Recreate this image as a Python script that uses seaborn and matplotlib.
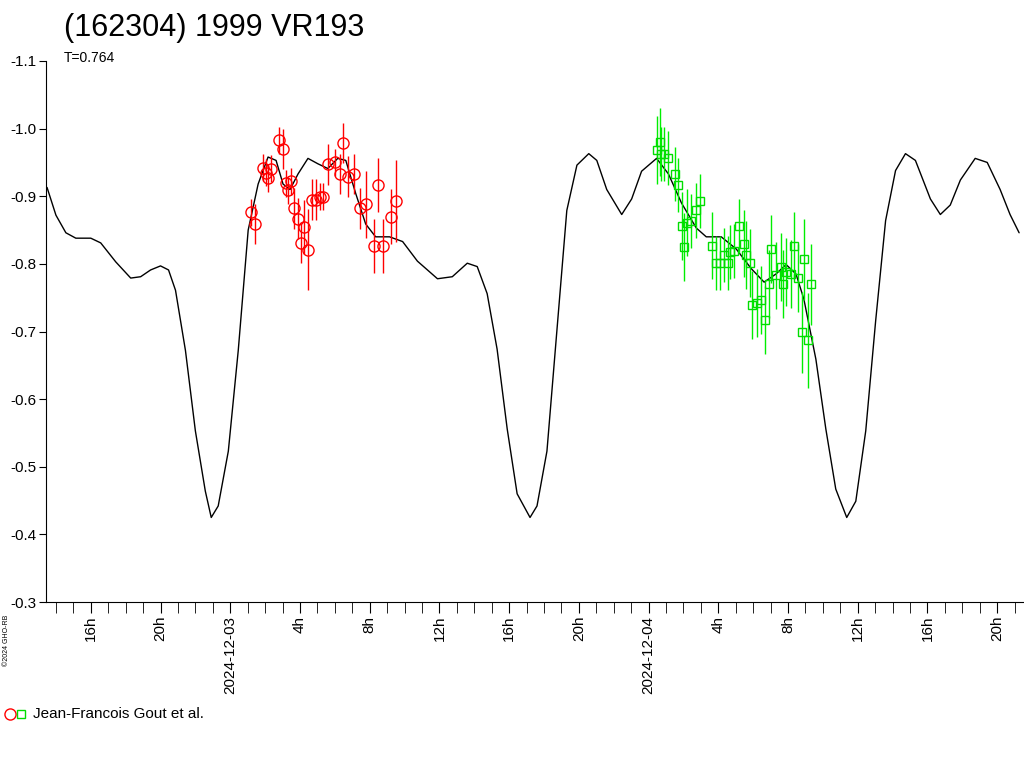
import numpy as np
import pandas as pd
import matplotlib
matplotlib.use("Agg")
import matplotlib.pyplot as plt
from matplotlib.lines import Line2D
import seaborn as sn

sn.set_style("white")
plt.rcParams['font.family'] = ['Liberation Sans', 'DejaVu Sans']
plt.rcParams['text.color'] = 'black'
plt.rcParams['xtick.color'] = 'black'
plt.rcParams['ytick.color'] = 'black'

# model curve: hours from 2024-12-03 00:00, magnitude
curve_h = [-10.51, -10.0, -9.43, -8.86, -8.0, -7.43, -6.57, -5.71, -5.14, -4.57, -4.0, -3.54, -3.14,
           -2.57, -2.0, -1.43, -1.09, -0.69, -0.11, 0.46, 1.03, 1.6, 2.17, 2.63, 3.03, 3.43, 3.89,
           4.46, 5.03, 5.6, 6.17, 6.63, 7.2, 7.77, 8.34, 9.14, 9.89, 10.74, 11.89, 12.74, 13.6,
           14.17, 14.74, 15.31, 15.89, 16.46, 17.2, 17.6, 18.17, 18.74, 19.31, 19.89, 20.57, 21.03,
           21.6, 22.46, 23.03, 23.6, 24.46, 25.14, 25.89, 26.74, 27.31, 28.17, 29.03, 29.89, 30.63,
           31.31, 31.89, 32.46, 32.91, 33.6, 34.17, 34.74, 35.37, 35.89, 36.46, 37.03, 37.6, 38.17,
           38.74, 39.31, 40.17, 40.74, 41.31, 41.89, 42.74, 43.43, 44.17, 44.74, 45.26]
curve_m = [-0.913, -0.872, -0.846, -0.838, -0.838, -0.831, -0.803, -0.779, -0.781, -0.791,
           -0.797, -0.791, -0.761, -0.672, -0.553, -0.464, -0.425, -0.442, -0.523, -0.672,
           -0.850, -0.918, -0.958, -0.953, -0.918, -0.910, -0.933, -0.956, -0.948, -0.941,
           -0.956, -0.953, -0.904, -0.859, -0.840, -0.840, -0.833, -0.804, -0.778, -0.781,
           -0.801, -0.796, -0.756, -0.674, -0.556, -0.460, -0.425, -0.442, -0.523, -0.701,
           -0.879, -0.946, -0.963, -0.953, -0.910, -0.873, -0.896, -0.937, -0.956, -0.933,
           -0.890, -0.853, -0.840, -0.840, -0.822, -0.793, -0.773, -0.785, -0.799, -0.785,
           -0.748, -0.659, -0.556, -0.467, -0.425, -0.449, -0.553, -0.716, -0.864, -0.938,
           -0.963, -0.953, -0.896, -0.873, -0.887, -0.924, -0.956, -0.950, -0.910, -0.873, -0.846]

# Jean-Francois Gout et al. - first night (red circles)
red_h = [1.2, 1.43, 1.89, 2.06, 2.17, 2.34, 2.8, 3.03, 3.2, 3.31, 3.49, 3.66, 3.89, 4.06, 4.23,
         4.46, 4.69, 4.91, 5.14, 5.31, 5.6, 6.0, 6.29, 6.46, 6.74, 7.09, 7.43, 7.77, 8.23, 8.46,
         8.74, 9.2, 9.49]
red_m = [-0.876, -0.859, -0.942, -0.935, -0.927, -0.941, -0.983, -0.970, -0.919, -0.909, -0.922,
         -0.882, -0.867, -0.831, -0.855, -0.821, -0.895, -0.895, -0.899, -0.899, -0.947, -0.950,
         -0.933, -0.979, -0.929, -0.933, -0.882, -0.888, -0.827, -0.916, -0.827, -0.870, -0.893]
red_e = [0.02, 0.03, 0.02, 0.02, 0.02, 0.02, 0.02, 0.03, 0.02, 0.02, 0.02, 0.03, 0.03, 0.03, 0.04,
         0.06, 0.03, 0.03, 0.02, 0.02, 0.03, 0.02, 0.03, 0.03, 0.03, 0.03, 0.03, 0.05, 0.04, 0.04,
         0.04, 0.04, 0.06]

# second night (green squares)
grn_h = [24.46, 24.63, 24.74, 24.91, 25.14, 25.49, 25.71, 25.94, 26.06, 26.23, 26.46, 26.74,
         26.97, 27.66, 27.89, 28.11, 28.34, 28.57, 28.69, 28.91, 29.2, 29.49, 29.6, 29.83, 29.94,
         30.23, 30.46, 30.69, 30.91, 31.03, 31.31, 31.6, 31.71, 31.89, 32.17, 32.34, 32.57,
         32.8, 32.91, 33.14, 33.31]
grn_m = [-0.968, -0.980, -0.962, -0.962, -0.956, -0.933, -0.916, -0.856, -0.825, -0.861, -0.864,
         -0.879, -0.893, -0.827, -0.801, -0.801, -0.813, -0.801, -0.818, -0.819, -0.856, -0.830,
         -0.813, -0.801, -0.739, -0.742, -0.747, -0.717, -0.770, -0.822, -0.783, -0.795, -0.770,
         -0.788, -0.785, -0.827, -0.779, -0.699, -0.807, -0.687, -0.770]
grn_e = [0.05, 0.05, 0.04, 0.04, 0.04, 0.04, 0.04, 0.05, 0.05, 0.05, 0.04, 0.04, 0.04, 0.05,
         0.04, 0.04, 0.04, 0.04, 0.04, 0.04, 0.04, 0.05, 0.05, 0.05, 0.05, 0.05, 0.05, 0.05, 0.05,
         0.05, 0.05, 0.05, 0.05, 0.05, 0.05, 0.05, 0.05, 0.06, 0.06, 0.07, 0.06]

y_ticks = [-1.1, -1.0, -0.9, -0.8, -0.7, -0.6, -0.5, -0.4, -0.3]

fig = plt.figure(figsize=(10.24, 7.68), dpi=100)
ax = fig.add_axes([46 / 1024, (768 - 602) / 768, 1 - 46 / 1024, (602 - 61) / 768])

df_curve = pd.DataFrame({"h": curve_h, "m": curve_m})
sn.lineplot(data=df_curve, x="h", y="m", color="black", lw=1, ax=ax, sort=False)

ax.errorbar(red_h, red_m, yerr=red_e, fmt="o", mfc="none", mec="red", ecolor="red",
            ms=8, mew=1, elinewidth=1, capsize=0)
ax.errorbar(grn_h, grn_m, yerr=grn_e, fmt="s", mfc="none", mec="#00dd00", ecolor="#00ee00",
            ms=6, mew=1, elinewidth=1, capsize=0)

ax.set_xlim(-10.57, 45.54)
ax.set_ylim(-0.3, -1.1)
ax.set_yticks(y_ticks)
ax.set_yticklabels([f"{v:.1f}" for v in y_ticks], fontsize=11)
ax.tick_params(axis="y", direction="out", length=5, left=True, pad=2)

major = [h for h in range(-8, 46, 4)]
ax.set_xticks(major)
ax.set_xticklabels(["" if h % 24 == 0 else f"{h % 24}h" for h in major],
                   rotation=90, fontsize=11)
ax.set_xticks(range(-10, 46), minor=True)
ax.tick_params(axis="x", which="both", direction="out", length=8, bottom=True, pad=2)
for h, txt in [(0, "2024-12-03"), (24, "2024-12-04")]:
    ax.annotate(txt, (h, -0.3), xytext=(0, -10), textcoords="offset points", rotation=90,
                ha="center", va="top", fontsize=11, annotation_clip=False)

for s in ["top", "right"]:
    ax.spines[s].set_visible(False)
ax.spines["left"].set_color("black")
ax.spines["bottom"].set_color("black")
ax.set_xlabel("")
ax.set_ylabel("")

fig.text(64 / 1024, 1 - 28 / 768, "(162304) 1999 VR193", fontsize=22, va="center")
fig.text(64 / 1024, 1 - 58 / 768, "T=0.764", fontsize=10, va="center")
fig.text(3 / 1024, 1 - 640 / 768, "©2024 GHO-RB", fontsize=5, rotation=90, va="center")

fig.add_artist(Line2D([10 / 1024], [1 - 714 / 768], marker="o", mfc="none", mec="red",
                      ms=8, transform=fig.transFigure))
fig.add_artist(Line2D([21 / 1024], [1 - 714 / 768], marker="s", mfc="none", mec="#00dd00",
                      ms=6, transform=fig.transFigure))
fig.text(33 / 1024, 1 - 714 / 768, "Jean-Francois Gout et al.", fontsize=11, va="center")

fig.savefig("out.png", dpi=100)
